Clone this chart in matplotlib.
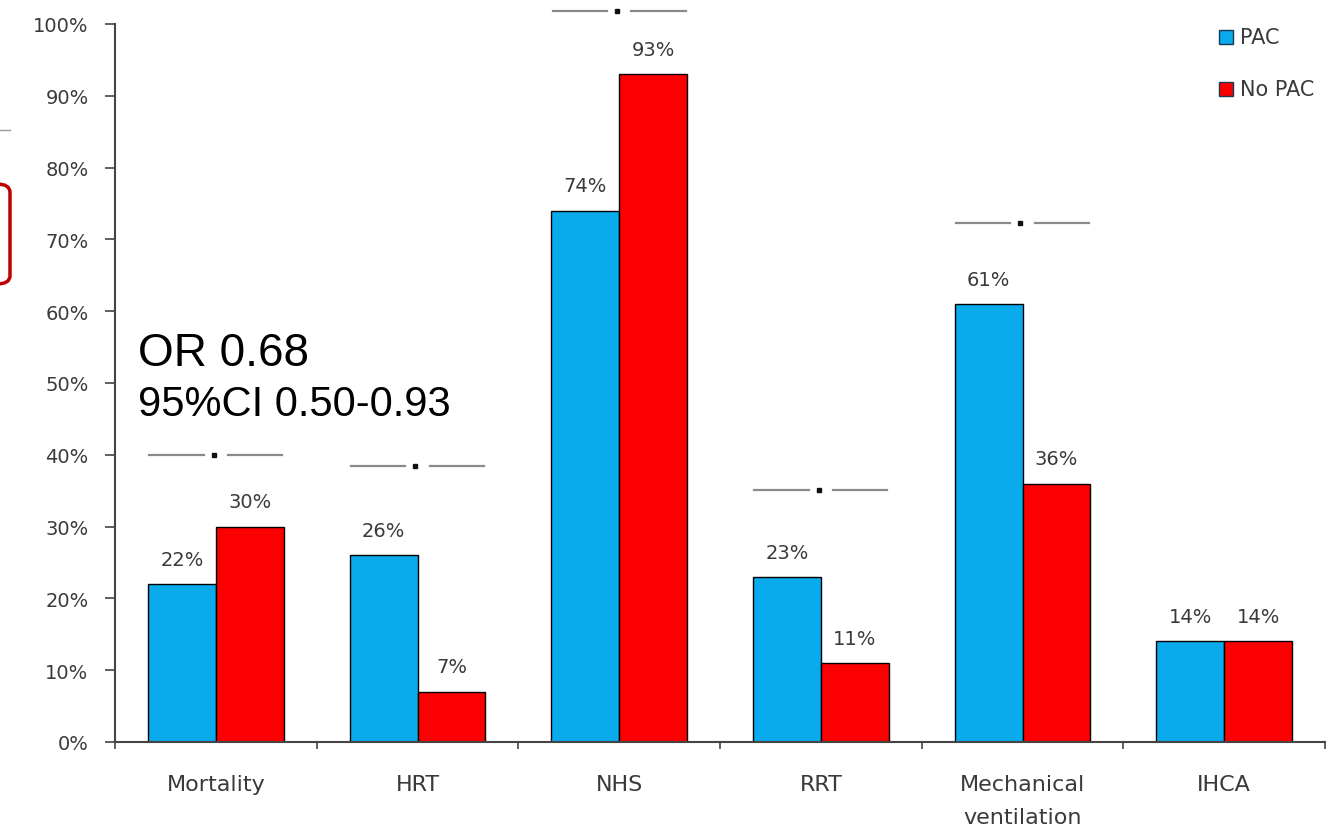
import matplotlib.pyplot as plt
from matplotlib.patches import FancyBboxPatch, Rectangle
from matplotlib.lines import Line2D
import numpy as np

categories = ['Mortality', 'HRT', 'NHS', 'RRT', 'Mechanical\nventilation', 'IHCA']
pac = [22, 26, 74, 23, 61, 14]
no_pac = [30, 7, 93, 11, 36, 14]
# height of the significance marker above each group (None = no marker)
sig_level = [40, 38.4, 101.8, 35.1, 72.3, None]
yticks = list(range(0, 101, 10))

blue = '#0aabec'
red = '#fb0000'
txt = '#3a3a3a'

fig = plt.figure(figsize=(13.29, 8.29), dpi=100)
ax = fig.add_axes([115 / 1329, 86 / 829, 1 - 115 / 1329 - 0.003, (743 - 25) / 829])

x = np.arange(len(categories))
w = 0.337
ax.bar(x - w / 2, pac, w, color=blue, edgecolor='black', linewidth=1.0, label='PAC')
ax.bar(x + w / 2, no_pac, w, color=red, edgecolor='black', linewidth=1.0, label='No PAC')

for i in range(len(categories)):
    ax.annotate(f'{pac[i]}%', (x[i] - w / 2, pac[i]), xytext=(0, 11), textcoords='offset points',
                ha='center', va='bottom', fontsize=14, color=txt)
    ax.annotate(f'{no_pac[i]}%', (x[i] + w / 2, no_pac[i]), xytext=(0, 11), textcoords='offset points',
                ha='center', va='bottom', fontsize=14, color=txt)

# significance markers: two grey dashes with a dot between them
for i, lvl in enumerate(sig_level):
    if lvl is None:
        continue
    ax.plot([x[i] - 0.33, x[i] - 0.06], [lvl, lvl], color='#8a8a8a', lw=1.6, clip_on=False)
    ax.plot([x[i] + 0.06, x[i] + 0.33], [lvl, lvl], color='#8a8a8a', lw=1.6, clip_on=False)
    ax.plot([x[i] - 0.01], [lvl], 's', color='#111111', ms=3.5, clip_on=False)

ax.set_xlim(-0.5, len(categories) - 0.5)
ax.set_ylim(0, 100)
ax.set_yticks(yticks)
ax.set_yticklabels([f'{t}%' for t in yticks], fontsize=14, color=txt)
ax.set_xticks(x)
ax.set_xticklabels(categories, fontsize=16, color=txt, linespacing=1.8)
ax.set_xticks(np.arange(-0.5, len(categories), 1.0), minor=True)
ax.tick_params(axis='x', which='major', length=0, pad=23)
ax.tick_params(axis='x', which='minor', length=5, width=1.2, color='#444444')
ax.tick_params(axis='y', length=7, width=1.2, color='#444444', pad=12)
for s in ['top', 'right']:
    ax.spines[s].set_visible(False)
for s in ['left', 'bottom']:
    ax.spines[s].set_color('#444444')
    ax.spines[s].set_linewidth(1.5)

ax.text(-0.385, 52.5, 'OR 0.68', fontsize=33, family='Liberation Sans', va='baseline')
ax.text(-0.385, 45.5, '95%CI 0.50-0.93', fontsize=30, family='Liberation Sans', va='baseline')

# legend drawn as figure patches
for k, (lab, col) in enumerate([('PAC', blue), ('No PAC', red)]):
    yy = 1 - (38 + 52 * k) / 829
    fig.patches.append(Rectangle((1219 / 1329, yy - 7 / 829), 14 / 1329, 14 / 829,
                                 transform=fig.transFigure, facecolor=col, edgecolor='#1a3a5a', lw=1))
    fig.text(1240 / 1329, yy, lab, fontsize=15, color=txt, va='center')

# cropped artifacts on the left edge
fig.lines.append(Line2D([0, 10 / 1329], [1 - 131 / 829, 1 - 131 / 829], transform=fig.transFigure,
                        color='#999999', lw=1))
fig.patches.append(FancyBboxPatch((-40 / 1329, 1 - 285 / 829), 50 / 1329, 100 / 829,
                                  boxstyle='round,pad=0,rounding_size=0.01', transform=fig.transFigure,
                                  facecolor='none', edgecolor='#c00000', lw=2.5))

fig.savefig('out.png', dpi=100)
